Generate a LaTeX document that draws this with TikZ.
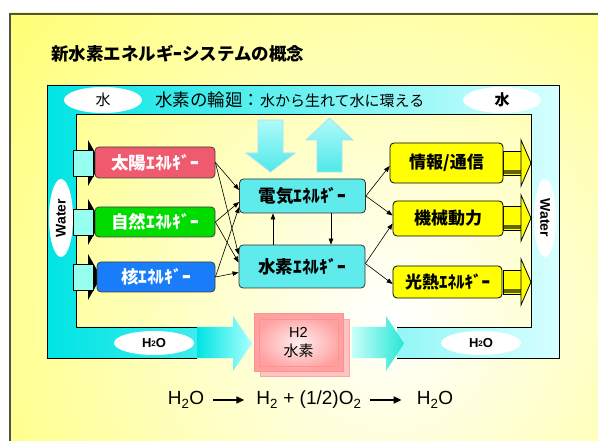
\documentclass[tikz,border=0pt]{standalone}
\usepackage{fontspec}
\setmainfont{Liberation Sans}
\newfontfamily\jp{Noto Sans CJK JP}
\usetikzlibrary{arrows.meta,shapes.geometric,calc}
\definecolor{bgy}{RGB}{255,255,0}
\definecolor{cyA}{RGB}{0,228,228}
\definecolor{cyB}{RGB}{215,255,255}
\definecolor{redbox}{RGB}{240,90,110}
\definecolor{greenbox}{RGB}{0,220,0}
\definecolor{bluebox}{RGB}{25,125,250}
\definecolor{cybox}{RGB}{95,235,235}
\definecolor{ybox}{RGB}{255,255,0}
\definecolor{pinkA}{RGB}{255,145,145}
\definecolor{pinkB}{RGB}{255,195,195}
\definecolor{framegray}{RGB}{80,80,80}
\definecolor{incyan}{RGB}{150,255,240}
\definecolor{bigA}{RGB}{175,250,250}
\definecolor{bigB}{RGB}{80,232,232}
\tikzset{
  srcbox/.style={draw=black!75, line width=0.8pt, rounded corners=4pt, minimum width=120pt, minimum height=31pt, inner sep=0pt, text=white, font=\jp\bfseries\fontsize{17.5}{20}\selectfont},
  midbox/.style={draw=black!80, line width=0.8pt, fill=cybox, rounded corners=4pt, minimum width=126pt, inner sep=0pt, font=\jp\bfseries\fontsize{17.5}{20}\selectfont},
  outbox/.style={draw=black, line width=0.8pt, fill=ybox, rounded corners=4pt, inner sep=0pt, font=\jp\bfseries\fontsize{17}{20}\selectfont},
  lnk/.style={-{Triangle[length=6pt,width=4.5pt]}, line width=0.6pt},
  oval/.style={ellipse, fill=white, inner sep=0pt},
  eqarrow/.style={-{Triangle[length=8pt,width=7pt]}, line width=1.5pt},
  inbody/.style={fill=incyan, draw=black, line width=0.8pt},
  outbody/.style={fill=ybox, draw=black, line width=0.8pt},
  bigarrow/.style={draw=cyan!35, line width=0.8pt},
}
\begin{document}
\begin{tikzpicture}[x=1pt,y=-1pt]
\useasboundingbox (0,0) rectangle (598,441);
\fill[white] (0,0) rectangle (598,441);
% background
\begin{scope}
\clip (9,13) rectangle (598,441);
\fill[bgy] (9,13) rectangle (598,441);
\shade[inner color=white, outer color=bgy] (390,320) circle (900pt);
\end{scope}
\draw[framegray, line width=2.5pt] (10.2,441) -- (10.2,14.2) -- (598,14.2);
% title
\node[anchor=west, font=\jp\bfseries\fontsize{17.5}{20}\selectfont, inner sep=0pt] (title) at (51,54) {新水素エネルギｰシステムの概念};
% cyan frame
\shade[left color=cyA, right color=cyB] (197,358) -- (47,358) -- (47,85) -- (559,85) -- (559,358) -- (397,358) -- (397,327) -- (531,327) -- (531,114) -- (76,114) -- (76,327) -- (197,327) -- cycle;
\draw[black, line width=0.9pt] (197,358) -- (47,358) -- (47,85) -- (559,85) -- (559,358) -- (397,358);
\draw[black, line width=0.9pt] (397,327) -- (531,327) -- (531,114) -- (76,114) -- (76,327) -- (197,327);
% top strip
\node[oval, minimum width=78pt, minimum height=26pt, font=\jp\fontsize{15}{16}\selectfont] (wl) at (103,100) {水};
\node[oval, minimum width=78pt, minimum height=26pt, font=\jp\bfseries\fontsize{15}{16}\selectfont] (wr) at (502,100) {水};
\node[anchor=west, inner sep=0pt] (cyc) at (155,100) {\jp\fontsize{17.5}{20}\selectfont 水素の輪廻：\fontsize{15}{18}\selectfont 水から生れて水に環える};
% side Water ovals
\node[oval, rotate=90, minimum width=78pt, minimum height=24pt, font=\bfseries\fontsize{14}{14}\selectfont] (wal) at (61,218) {Water};
\node[oval, rotate=-90, minimum width=78pt, minimum height=22pt, font=\bfseries\fontsize{14}{14}\selectfont] (war) at (545,218) {Water};
% big vertical arrows
\shade[top color=bigA, bottom color=bigB] (258,120) -- (283,120) -- (283,153) -- (295,153) -- (270.5,172) -- (246,153) -- (258,153) -- cycle;
\draw[bigarrow] (258,120) -- (283,120) -- (283,153) -- (295,153) -- (270.5,172) -- (246,153) -- (258,153) -- cycle;
\shade[top color=bigA, bottom color=bigB] (317,172) -- (342,172) -- (342,140) -- (353,140) -- (329.5,118) -- (306,140) -- (317,140) -- cycle;
\draw[bigarrow] (317,172) -- (342,172) -- (342,140) -- (353,140) -- (329.5,118) -- (306,140) -- (317,140) -- cycle;
% input arrows
\foreach \c in {163,222,277}{
  \fill[black] (88,\c-23) -- (101,\c) -- (88,\c+23) -- cycle;
  \draw[inbody] (73,\c-13) rectangle (93,\c+13);
}
% output arrows
\foreach \c in {163,218,282}{
  \draw[outbody] (503,\c-12) rectangle (523,\c+12);
  \fill[black!60!ybox] (504,\c+7) rectangle (522,\c+11.5);
  \draw[outbody] (521,\c-23) -- (531,\c) -- (521,\c+23) -- cycle;
}
% source boxes
\node[srcbox, fill=redbox] (taiyo) at (155,162.5) {太陽ｴﾈﾙｷﾞｰ};
\node[srcbox, fill=greenbox, minimum height=30pt] (shizen) at (155,222) {自然ｴﾈﾙｷﾞｰ};
\node[srcbox, fill=bluebox, minimum width=118pt, minimum height=30pt] (kaku) at (156,277) {核ｴﾈﾙｷﾞｰ};
% middle boxes
\node[midbox, minimum height=34pt] (denki) at (302.5,196) {電気ｴﾈﾙｷﾞｰ};
\node[midbox, minimum height=43pt] (suiso) at (302,266.5) {水素ｴﾈﾙｷﾞｰ};
% output boxes
\node[outbox, minimum width=113pt, minimum height=40pt] (joho) at (446.5,163) {情報/通信};
\node[outbox, minimum width=110pt, minimum height=35pt] (kikai) at (448,218.5) {機械動力};
\node[outbox, minimum width=109pt, minimum height=32pt] (kounetsu) at (447.5,282) {光熱ｴﾈﾙｷﾞｰ};
% links
\draw[lnk] (taiyo.east) -- ([yshift=6pt]denki.west);
\draw[lnk] (taiyo.east) -- ([yshift=12pt]suiso.west);
\draw[lnk] (shizen.east) -- ([yshift=-6pt]denki.west);
\draw[lnk] (shizen.east) -- ([yshift=4pt]suiso.west);
\draw[lnk] (kaku.east) -- ([yshift=-11pt]denki.west);
\draw[lnk] (kaku.east) -- ([yshift=-6pt]suiso.west);
\draw[lnk] (denki.east) -- ([yshift=-3pt]joho.west);
\draw[lnk] (denki.east) -- ([yshift=3pt]kikai.west);
\draw[lnk] ([yshift=3pt]suiso.east) -- ([yshift=-5pt]kikai.west);
\draw[lnk] ([yshift=3pt]suiso.east) -- ([yshift=-2pt]kounetsu.west);
\draw[lnk] ([xshift=-29pt]suiso.north) -- ([xshift=-29.5pt]denki.south);
\draw[lnk] ([xshift=28.5pt]denki.south) -- ([xshift=29pt]suiso.north);
% bottom arrows
\shade[left color=cyA, right color={rgb,255:red,170;green,255;blue,255}] (197,327) -- (233,327) -- (233,316) -- (252,343.5) -- (233,371) -- (233,358) -- (197,358) -- cycle;
\shade[left color={rgb,255:red,200;green,255;blue,250}, right color={rgb,255:red,40;green,230;blue,215}] (352,327) -- (386,327) -- (386,316) -- (404,343.5) -- (386,371) -- (386,358) -- (352,358) -- cycle;
% H2O ovals
\node[oval, minimum width=80pt, minimum height=24pt, font=\bfseries\fontsize{13}{13}\selectfont] (hl) at (154,343) {H\raisebox{0.8pt}{\fontsize{8}{8}\selectfont 2}O};
\node[oval, minimum width=80pt, minimum height=24pt, font=\bfseries\fontsize{13}{13}\selectfont] (hr) at (481,343) {H\raisebox{0.8pt}{\fontsize{8}{8}\selectfont 2}O};
% H2 box
\node[fill=pinkB, draw=pinkA!80, minimum width=89pt, minimum height=57pt] (h2back) at (304.5,347.5) {};
\node[draw=pinkA, line width=1pt, inner color={rgb,255:red,255;green,238;blue,238}, outer color={rgb,255:red,255;green,160;blue,160}, minimum width=89pt, minimum height=57pt, align=center, text=black, font=\fontsize{14.5}{19}\selectfont] (h2) at (298.5,342.5) {H2\\{\jp\fontsize{15}{19}\selectfont 水素}};
\draw[pinkA, line width=0.8pt] (259,319) rectangle (338,366);
% equation
\node[font=\fontsize{19}{20}\selectfont, inner sep=0pt] (e1) at (186,400) {H\textsubscript{2}O};
\node[font=\fontsize{19}{20}\selectfont, inner sep=0pt] (e2) at (309,400) {H\textsubscript{2} + (1/2)O\textsubscript{2}};
\node[font=\fontsize{19}{20}\selectfont, inner sep=0pt] (e3) at (435,400) {H\textsubscript{2}O};
\draw[eqarrow] ([xshift=9pt]e1.east) -- ([xshift=-12pt]e2.west);
\draw[eqarrow] ([xshift=8pt]e2.east) -- ([xshift=-15pt]e3.west);
\end{tikzpicture}
\end{document}
